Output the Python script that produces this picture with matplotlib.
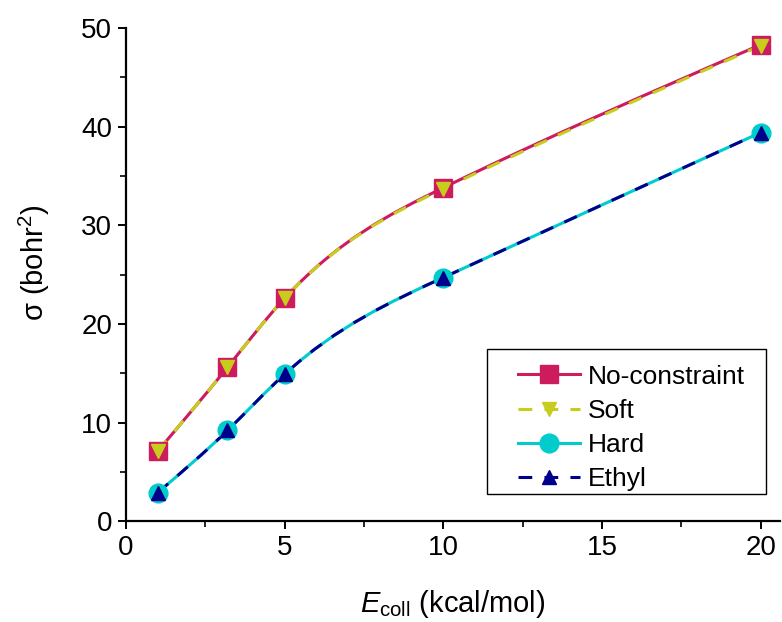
import numpy as np
import matplotlib
matplotlib.use('Agg')
import matplotlib.pyplot as plt
from matplotlib.path import Path
from matplotlib.patches import PathPatch, Rectangle
from matplotlib.lines import Line2D

plt.rcParams['font.family'] = ['Liberation Sans', 'DejaVu Sans']
plt.rcParams['mathtext.fontset'] = 'custom'
plt.rcParams['mathtext.rm'] = 'Liberation Sans'
plt.rcParams['mathtext.it'] = 'Liberation Sans:italic'

# collision energies (kcal/mol)
e_coll = [1, 3.2, 5, 10, 20]
# cross sections (bohr^2)
no_constraint = [7.1, 15.6, 22.6, 33.8, 48.3]
soft = [7.1, 15.6, 22.6, 33.7, 48.2]
hard = [2.9, 9.2, 14.9, 24.7, 39.4]
ethyl = [2.9, 9.2, 14.9, 24.7, 39.4]

names = ['No-constraint', 'Soft', 'Hard', 'Ethyl']
series = [no_constraint, soft, hard, ethyl]
colors = ['#CC1C5E', '#C8CC1C', '#00CCCC', '#00008B']
markers = ['s', 'v', 'o', '^']
msizes = [12.5, 10.5, 13.5, 10.5]
dashed = [False, True, False, True]


def smooth_path(x, y):
    # bezier form of a natural cubic spline through the points
    x = np.asarray(x, float)
    y = np.asarray(y, float)
    n = len(x)
    h = np.diff(x)
    A = np.zeros((n, n))
    b = np.zeros(n)
    A[0, 0] = A[-1, -1] = 1
    for i in range(1, n - 1):
        A[i, i - 1] = h[i - 1]
        A[i, i] = 2 * (h[i - 1] + h[i])
        A[i, i + 1] = h[i]
        b[i] = 6 * ((y[i + 1] - y[i]) / h[i] - (y[i] - y[i - 1]) / h[i - 1])
    M = np.linalg.solve(A, b)
    d = np.zeros(n)
    for i in range(n - 1):
        d[i] = (y[i + 1] - y[i]) / h[i] - h[i] * (2 * M[i] + M[i + 1]) / 6
    d[-1] = (y[-1] - y[-2]) / h[-1] + h[-1] * (M[-2] + 2 * M[-1]) / 6
    verts = [(x[0], y[0])]
    codes = [Path.MOVETO]
    for i in range(n - 1):
        verts += [(x[i] + h[i] / 3, y[i] + d[i] * h[i] / 3),
                  (x[i + 1] - h[i] / 3, y[i + 1] - d[i + 1] * h[i] / 3),
                  (x[i + 1], y[i + 1])]
        codes += [Path.CURVE4] * 3
    return Path(verts, codes)


fig = plt.figure(figsize=(7.82, 6.22), dpi=100)
ax = fig.add_axes([0.161, 0.162, 0.836, 0.793])

dash = (0, (4.5, 4))
for k in range(4):
    ls = dash if dashed[k] else '-'
    patch = PathPatch(smooth_path(e_coll, series[k]), facecolor='none',
                      edgecolor=colors[k], lw=2.2, linestyle=ls, zorder=2 + k)
    ax.add_patch(patch)
for k in [0, 2, 1, 3]:
    ax.plot(e_coll, series[k], linestyle='none', marker=markers[k],
            ms=msizes[k], color=colors[k], mec=colors[k], zorder=10 + k)

handles = []
for k in range(4):
    ls = dash if dashed[k] else '-'
    handles.append(Line2D([], [], color=colors[k], lw=2.2, linestyle=ls,
                          marker=markers[k], ms=msizes[k], mec=colors[k]))

ax.set_xlim(0, 20.6)
ax.set_ylim(0, 50)
ax.set_xticks([0, 5, 10, 15, 20])
ax.set_xticks([2.5, 7.5, 12.5, 17.5], minor=True)
ax.set_yticks([0, 10, 20, 30, 40, 50])
ax.set_yticks([5, 15, 25, 35, 45], minor=True)
ax.spines['top'].set_visible(False)
ax.spines['right'].set_visible(False)
for s in ['left', 'bottom']:
    ax.spines[s].set_linewidth(1.6)
ax.tick_params(which='major', direction='out', length=6, width=1.4,
               labelsize=20, pad=4)
ax.tick_params(which='minor', direction='out', length=4, width=1.2)

ax.set_xlabel(r'$E_{\rm coll}$ (kcal/mol)', fontsize=21, labelpad=19)
ax.set_ylabel(r'σ (bohr$^2$)', fontsize=21)
ax.yaxis.set_label_coords(-0.113, 0.524)

# legend frame drawn apart so the rows can sit low in the box like the original
ax.add_patch(Rectangle((0.552, 0.055), 0.427, 0.294, transform=ax.transAxes,
                       facecolor='white', edgecolor='black', lw=1.0, zorder=15))
leg = ax.legend(handles, names, loc='center left', bbox_to_anchor=(0.5996, 0.189),
                fontsize=19, frameon=False, handlelength=2.35, handletextpad=0.3,
                borderpad=0.0, labelspacing=0.39, borderaxespad=0.0)
leg.set_zorder(16)

fig.savefig('out.png', dpi=100)
